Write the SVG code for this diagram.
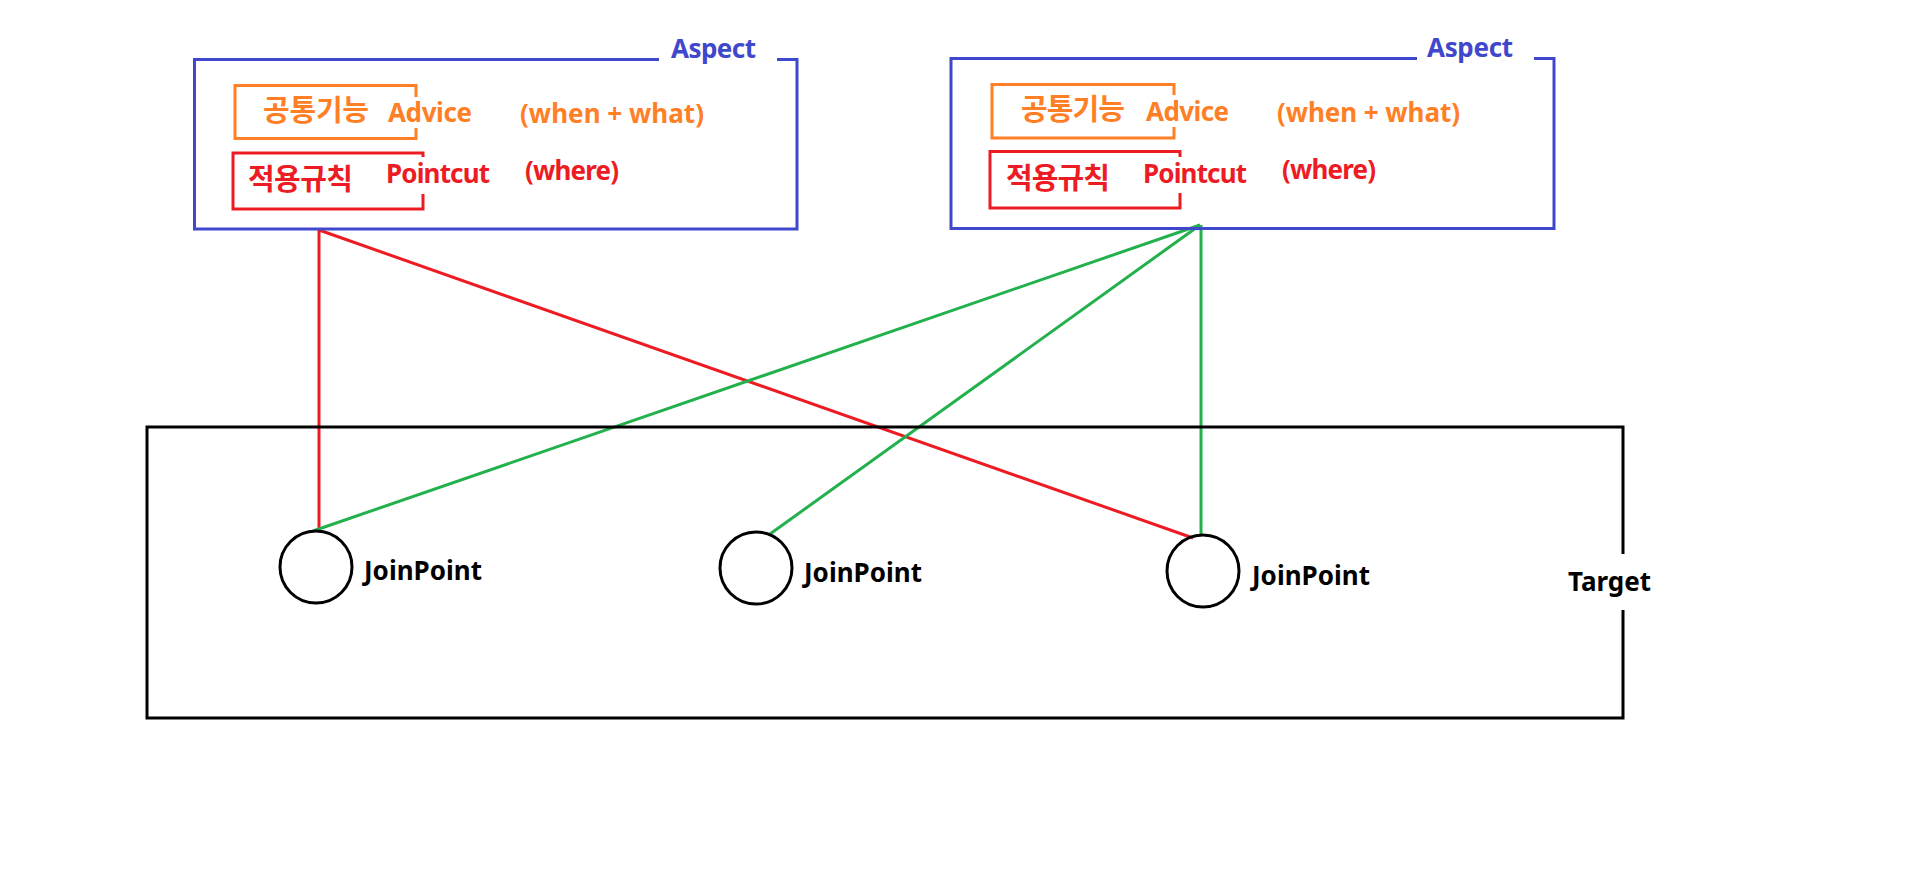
<svg xmlns="http://www.w3.org/2000/svg" width="1907" height="873" viewBox="0 0 1907 873">
<style>
text{font-family:"Noto Sans","Noto Sans CJK KR",sans-serif;font-weight:bold;font-size:26px}
.ko{font-family:"Noto Sans CJK KR","Noto Sans",sans-serif;font-size:29px}
.frame{fill:none;stroke-width:3}
.blue{stroke:#3f48cc}.bluet{fill:#3f48cc}
.orange{stroke:#ff7f27}.oranget{fill:#ff7f27}
.red{stroke:#ed1c24}.redt{fill:#ed1c24}
.black{stroke:#000}.blackt{fill:#000}
.conn{fill:none;stroke-width:3}
.green{stroke:#22b14c}
</style>
<rect width="1907" height="873" fill="#fff"/>
<g id="connectors">
<line class="conn red" x1="319" y1="230" x2="319" y2="531"/>
<line class="conn red" x1="319" y1="230" x2="1193" y2="538"/>
<line class="conn green" x1="1200" y1="225" x2="313" y2="531"/>
<line class="conn green" x1="1200" y1="225" x2="770" y2="534"/>
<line class="conn green" x1="1201" y1="225" x2="1201" y2="535"/>
</g>
<g id="aspect1">
<path class="frame blue" d="M659,59.5 H194.5 V229 H797 V59.5 H777"/>
<text class="bluet" x="671" y="58" textLength="85" font-size="25">Aspect</text>
<g id="advice1">
<path class="frame orange" d="M416,97 V85.5 H235 V138.5 H416 V128"/>
<text class="ko oranget" x="263" y="121" textLength="106">공통기능</text>
<text class="oranget" x="388" y="122" textLength="84">Advice</text>
<text class="oranget" x="520" y="123" textLength="184">(when + what)</text>
</g>
<g id="pointcut1">
<path class="frame red" d="M423,157 V153 H233 V209 H423 V194"/>
<text class="ko redt" x="248" y="190" textLength="105">적용규칙</text>
<text class="redt" x="386" y="183" textLength="104">Pointcut</text>
<text class="redt" x="525" y="180" textLength="94">(where)</text>
</g>
</g>
<g id="aspect2">
<path class="frame blue" d="M1417,58.5 H951 V228.5 H1554 V58.5 H1534"/>
<text class="bluet" x="1427" y="57" textLength="86" font-size="25">Aspect</text>
<g id="advice2">
<path class="frame orange" d="M1174,95 V84.5 H992 V138 H1174 V127"/>
<text class="ko oranget" x="1021" y="120" textLength="104">공통기능</text>
<text class="oranget" x="1146" y="121" textLength="83">Advice</text>
<text class="oranget" x="1277" y="122" textLength="183">(when + what)</text>
</g>
<g id="pointcut2">
<path class="frame red" d="M1180,157 V151.5 H990 V208 H1180 V193"/>
<text class="ko redt" x="1006" y="189" textLength="104">적용규칙</text>
<text class="redt" x="1143" y="183" textLength="104">Pointcut</text>
<text class="redt" x="1282" y="179" textLength="94">(where)</text>
</g>
</g>
<g id="target">
<path class="frame black" d="M1623,554 V427 H147 V718 H1623 V610"/>
<text class="blackt" x="1568" y="591" textLength="83" font-size="25">Target</text>
</g>
<g id="joinpoint1">
<circle class="frame black" cx="316" cy="567" r="36"/>
<text class="blackt" x="364" y="580" textLength="118">JoinPoint</text>
</g>
<g id="joinpoint2">
<circle class="frame black" cx="756" cy="568" r="36"/>
<text class="blackt" x="804" y="582" textLength="118">JoinPoint</text>
</g>
<g id="joinpoint3">
<circle class="frame black" cx="1203" cy="571" r="36"/>
<text class="blackt" x="1252" y="585" textLength="118">JoinPoint</text>
</g>
</svg>
